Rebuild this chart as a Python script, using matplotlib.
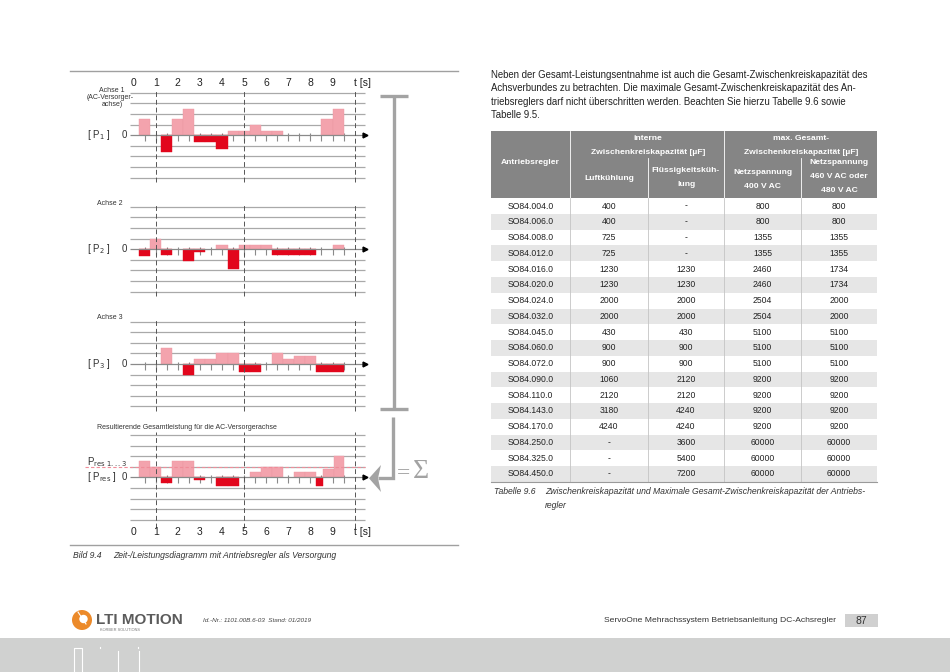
import numpy as np
import matplotlib.pyplot as plt
from matplotlib.patches import Rectangle, Circle, Polygon

plt.rcParams['font.family'] = ['Liberation Sans', 'DejaVu Sans']

W, H = 950, 672

# ---- chart data: power per axis over time (start [s], end [s], value) ----
p1_t0 = [0.25, 1.25, 1.75, 2.25, 2.75, 3.25, 3.75, 4.25, 4.75, 5.25, 5.75, 6.25, 8.5, 9.0]
p1_t1 = [0.75, 1.75, 2.25, 2.75, 3.25, 3.75, 4.25, 4.75, 5.25, 5.75, 6.25, 6.75, 9.0, 9.5]
p1_val = [1.5, -1.6, 1.5, 2.5, -0.6, -0.6, -1.3, 0.4, 0.4, 1.0, 0.4, 0.4, 1.5, 2.5]

p2_t0 = [0.25, 0.75, 1.25, 2.25, 2.75, 3.75, 4.25, 4.75, 5.25, 5.75, 6.25, 6.75, 7.25, 7.75, 9.0]
p2_t1 = [0.75, 1.25, 1.75, 2.75, 3.25, 4.25, 4.75, 5.25, 5.75, 6.25, 6.75, 7.25, 7.75, 8.25, 9.5]
p2_val = [-0.6, 1.0, -0.55, -1.1, -0.3, 0.4, -1.9, 0.45, 0.45, 0.45, -0.55, -0.55, -0.55, -0.55, 0.45]

p3_t0 = [1.25, 2.25, 2.75, 3.25, 3.75, 4.25, 4.75, 5.25, 6.25, 6.75, 7.25, 7.75, 8.25, 8.75]
p3_t1 = [1.75, 2.75, 3.25, 3.75, 4.25, 4.75, 5.25, 5.75, 6.75, 7.25, 7.75, 8.25, 8.75, 9.5]
p3_val = [1.5, -1.0, 0.5, 0.5, 1.0, 1.0, -0.8, -0.8, 1.0, 0.5, 0.75, 0.75, -0.8, -0.8]

pr_t0 = [0.25, 0.75, 1.25, 1.75, 2.25, 2.75, 3.75, 4.25, 5.25, 5.75, 6.25, 7.25, 7.75, 8.25, 8.55, 9.05]
pr_t1 = [0.75, 1.25, 1.75, 2.25, 2.75, 3.25, 4.25, 4.75, 5.75, 6.25, 6.75, 7.75, 8.25, 8.55, 9.05, 9.5]
pr_val = [1.5, 1.0, -0.5, 1.5, 1.5, -0.22, -0.85, -0.85, 0.5, 1.0, 1.0, 0.5, 0.5, -0.85, 0.75, 2.0]
pr_limit = 1.0

time_labels = ['0', '1', '2', '3', '4', '5', '6', '7', '8', '9']

# ---- table data ----
regler = ['SO84.004.0', 'SO84.006.0', 'SO84.008.0', 'SO84.012.0', 'SO84.016.0', 'SO84.020.0',
          'SO84.024.0', 'SO84.032.0', 'SO84.045.0', 'SO84.060.0', 'SO84.072.0', 'SO84.090.0',
          'SO84.110.0', 'SO84.143.0', 'SO84.170.0', 'SO84.250.0', 'SO84.325.0', 'SO84.450.0']
luft = ['400', '400', '725', '725', '1230', '1230', '2000', '2000', '430', '900', '900', '1060',
        '2120', '3180', '4240', '-', '-', '-']
fluessig = ['-', '-', '-', '-', '1230', '1230', '2000', '2000', '430', '900', '900', '2120',
            '2120', '4240', '4240', '3600', '5400', '7200']
netz400 = ['800', '800', '1355', '1355', '2460', '2460', '2504', '2504', '5100', '5100', '5100',
           '9200', '9200', '9200', '9200', '60000', '60000', '60000']
netz480 = ['800', '800', '1355', '1355', '1734', '1734', '2000', '2000', '5100', '5100', '5100',
           '9200', '9200', '9200', '9200', '60000', '60000', '60000']

paragraph = ['Neben der Gesamt-Leistungsentnahme ist auch die Gesamt-Zwischenkreiskapazität des',
             'Achsverbundes zu betrachten. Die maximale Gesamt-Zwischenkreiskapazität des An-',
             'triebsreglers darf nicht überschritten werden. Beachten Sie hierzu Tabelle 9.6 sowie',
             'Tabelle 9.5.']

PINK = '#f3a3ad'
RED = '#e2061c'
GRID = '#a9a9a9'
TXT = '#333333'

fig = plt.figure(figsize=(W / 100, H / 100), dpi=100)
page = fig.add_axes([0, 0, 1, 1])
page.set_xlim(0, W)
page.set_ylim(H, 0)
page.axis('off')

# pixel mapping of the diagrams
T0_PX, PX_S, UNIT = 133.6, 22.1, 10.6
t_left = (130 - T0_PX) / PX_S
t_right = (365 - T0_PX) / PX_S


def panel(axis_y, t0, t1, vals):
    x0, x1 = 120, 380
    ytop, ybot = axis_y - 6 * UNIT, axis_y + 6 * UNIT
    ax = fig.add_axes([x0 / W, 1 - ybot / H, (x1 - x0) / W, (ybot - ytop) / H])
    ax.set_xlim((x0 - T0_PX) / PX_S, (x1 - T0_PX) / PX_S)
    ax.set_ylim(-6, 6)
    ax.axis('off')
    ax.hlines([-4, -3, -2, -1, 1, 2, 3, 4], t_left, t_right, color=GRID, lw=0.9, zorder=1)
    ax.vlines(np.arange(0.5, 10, 0.5), -0.55, 0.2, color='#8a8a8a', lw=0.8, zorder=1.5)
    t0 = np.array(t0)
    t1 = np.array(t1)
    vals = np.array(vals)
    pos = vals > 0
    ax.bar(t0[pos], vals[pos], width=(t1 - t0)[pos], align='edge', color=PINK,
           edgecolor='#ec98a3', linewidth=0.3, zorder=2)
    ax.bar(t0[~pos], vals[~pos], width=(t1 - t0)[~pos], align='edge', color=RED,
           edgecolor=RED, linewidth=0.3, zorder=2)
    ax.hlines(0, t_left, 10.4, color='#8a8a8a', lw=0.9, zorder=3)
    ax.plot([10.45], [0], marker='>', ms=3.5, color='black', zorder=4)
    return ax


ax1 = panel(135.3, p1_t0, p1_t1, p1_val)
ax2 = panel(249.3, p2_t0, p2_t1, p2_val)
ax3 = panel(364.0, p3_t0, p3_t1, p3_val)
ax4 = panel(477.3, pr_t0, pr_t1, pr_val)

for ax in (ax1, ax2, ax3):
    ax.vlines([1, 5, 10], -4.4, 4.3, color='#555555', lw=0.7, linestyles=(0, (5, 3)), zorder=3)
ax4.vlines([1, 5, 10], -4.8, 4.3, color='#555555', lw=0.7, linestyles=(0, (5, 3)), zorder=3)
ax4.hlines(pr_limit, (85 - T0_PX) / PX_S, t_right, color='#f08c99', lw=0.8,
           linestyles=(0, (3, 2)), zorder=3, clip_on=False)

for i, lab in enumerate(time_labels):
    ax1.text(i, 4.93, lab, ha='center', va='center', fontsize=7.5, color='#222222')
    ax4.text(i, -5.15, lab, ha='center', va='center', fontsize=7.5, color='#222222')
ax1.text(10.38, 4.93, 't [s]', ha='center', va='center', fontsize=7.5, color='#222222')
ax4.text(10.38, -5.15, 't [s]', ha='center', va='center', fontsize=7.5, color='#222222')

# left labels
small = dict(fontsize=5, color=TXT, ha='center', va='center')
page.text(112, 90.3, 'Achse 1', **small)
page.text(110, 97.7, '(AC-Versorger-', **small)
page.text(112, 104.7, 'achse)', **small)
page.text(110, 203.3, 'Achse 2', **small)
page.text(110, 317.3, 'Achse 3', **small)
page.text(96.7, 427.7, 'Resultierende Gesamtleistung für die AC-Versorgerachse',
          fontsize=5, color=TXT, ha='left', va='center')
lab = dict(fontsize=7, color=TXT, ha='left', va='center')
page.text(86.7, 135.3, '[ P$_1$ ]', **lab)
page.text(86.7, 249.3, '[ P$_2$ ]', **lab)
page.text(86.7, 364.0, '[ P$_3$ ]', **lab)
page.text(86.7, 462.5, 'P$_{\\mathrm{res\\ 1...3}}$', **lab)
page.text(86.7, 477.3, '[ P$_{\\mathrm{res}}$ ]', **lab)
for yy in (135.3, 249.3, 364.0, 477.3):
    page.text(124.3, yy, '0', fontsize=7, color=TXT, ha='center', va='center')

# frame lines and caption of the figure
page.plot([70, 458], [71, 71], color='#a0a0a0', lw=1.0)
page.plot([70, 458], [545, 545], color='#a0a0a0', lw=1.0)
page.text(73, 555, 'Bild 9.4', fontsize=6.2, style='italic', color=TXT, va='center')
page.text(113, 555, 'Zeit-/Leistungsdiagramm mit Antriebsregler als Versorgung',
          fontsize=6.2, style='italic', color=TXT, va='center')

# bracket and sum arrow
BR = '#a3a3a3'
page.plot([393.5, 393.5], [95.5, 408.5], color=BR, lw=2.4, solid_capstyle='butt')
page.plot([380, 408], [95.5, 95.5], color=BR, lw=2.4, solid_capstyle='butt')
page.plot([380, 408], [408.5, 408.5], color=BR, lw=2.4, solid_capstyle='butt')
page.plot([392.7, 392.7, 378], [417, 478.3, 478.3], color=BR, lw=2.4,
          solid_capstyle='butt', solid_joinstyle='miter')
page.add_patch(Polygon([(369, 478.3), (381, 465), (378, 478.3), (381, 492)],
                       closed=True, color=BR, lw=0))
page.text(397, 474, '=', fontsize=17, color=BR, va='center', ha='left',
          family=['Liberation Serif', 'DejaVu Serif'])
page.text(413, 472, 'Σ', fontsize=20, color=BR, va='center', ha='left',
          family=['Liberation Serif', 'DejaVu Serif'])

# paragraph
for i, line in enumerate(paragraph):
    page.text(491, 75 + i * 13.4, line, fontsize=6.9, color='#222222', va='center')

# table
cols_x = [491, 570, 648, 724, 801, 877]
cx = [(cols_x[i] + cols_x[i + 1]) / 2 for i in range(5)]
HEAD = '#858585'
h_top, h_bot = 131, 198.2
page.add_patch(Rectangle((cols_x[0], h_top), cols_x[-1] - cols_x[0], h_bot - h_top,
                         facecolor=HEAD, edgecolor='none'))
for x in (570, 724):
    page.plot([x, x], [h_top, h_bot], color='white', lw=0.6)
for x in (648, 801):
    page.plot([x, x], [158, h_bot], color='white', lw=0.6)
hd = dict(fontsize=6.1, color='white', weight='bold', ha='center', va='center')
page.text(cx[0], 163, 'Antriebsregler', **hd)
page.text(648, 139, 'interne', **hd)
page.text(648, 153, 'Zwischenkreiskapazität [µF]', **hd)
page.text(801, 139, 'max. Gesamt-', **hd)
page.text(801, 153, 'Zwischenkreiskapazität [µF]', **hd)
page.text(cx[1], 178, 'Luftkühlung', **hd)
page.text(cx[2], 170.5, 'Flüssigkeitsküh-', **hd)
page.text(cx[2], 185, 'lung', **hd)
page.text(cx[3], 172, 'Netzspannung', **hd)
page.text(cx[3], 186, '400 V AC', **hd)
page.text(cx[4], 163, 'Netzspannung', **hd)
page.text(cx[4], 177, '460 V AC oder', **hd)
page.text(cx[4], 191, '480 V AC', **hd)

ROW = 15.76
for r in range(len(regler)):
    top = h_bot + r * ROW
    if r % 2 == 1:
        page.add_patch(Rectangle((cols_x[0], top), cols_x[-1] - cols_x[0], ROW,
                                 facecolor='#e6e6e6', edgecolor='none'))
    for c, val in enumerate([regler[r], luft[r], fluessig[r], netz400[r], netz480[r]]):
        page.text(cx[c], top + ROW / 2, val, fontsize=6.2, color='#222222',
                  ha='center', va='center')
t_bot = h_bot + len(regler) * ROW
for x in cols_x[1:-1]:
    page.plot([x, x], [h_bot, t_bot], color='#c4c4c4', lw=0.6)
page.plot([cols_x[0], cols_x[-1]], [t_bot, t_bot], color='#9a9a9a', lw=0.8)

page.text(494, 492, 'Tabelle 9.6', fontsize=6.2, style='italic', color=TXT, va='center')
page.text(545, 492, 'Zwischenkreiskapazität und Maximale Gesamt-Zwischenkreiskapazität der Antriebs-',
          fontsize=6.2, style='italic', color=TXT, va='center')
page.text(545, 506, 'regler', fontsize=6.2, style='italic', color=TXT, va='center')

# footer
page.add_patch(Circle((82, 620), 10, color='#ec8a2a', lw=0))
page.add_patch(Circle((83.5, 619), 4.2, color='white', lw=0))
page.plot([78, 86], [612, 624], color='white', lw=0.8)
page.text(96, 619.5, 'LTI MOTION', fontsize=11, weight='bold', color='#5b5b5b', va='center')
page.text(100, 630, 'KÖRBER SOLUTIONS', fontsize=2.8, color='#777777', va='center')
page.text(203, 621, 'Id.-Nr.: 1101.00B.6-03  Stand: 01/2019', fontsize=4.6, style='italic',
          color='#444444', va='center')
page.text(836, 621, 'ServoOne Mehrachssystem Betriebsanleitung DC-Achsregler', fontsize=6.1,
          color='#333333', ha='right', va='center')
page.add_patch(Rectangle((845, 614), 33, 13, facecolor='#d0d0d0', edgecolor='none'))
page.text(861.5, 620.5, '87', fontsize=7.5, color='#333333', ha='center', va='center')

page.add_patch(Rectangle((0, 637.5), W, H - 637.5, facecolor='#d0d1d0', edgecolor='none'))
page.plot([73.5, 73.5, 81.5, 81.5], [672, 648, 648, 672], color='white', lw=0.8)
page.plot([100, 100], [646.5, 647.5], color='white', lw=0.8)
page.plot([117.5, 117.5], [651, 672], color='white', lw=0.8)
page.plot([138, 138], [646.5, 647.5], color='white', lw=0.8)
page.plot([138.5, 138.5], [651, 672], color='white', lw=0.8)

fig.savefig('out.png', dpi=100)
